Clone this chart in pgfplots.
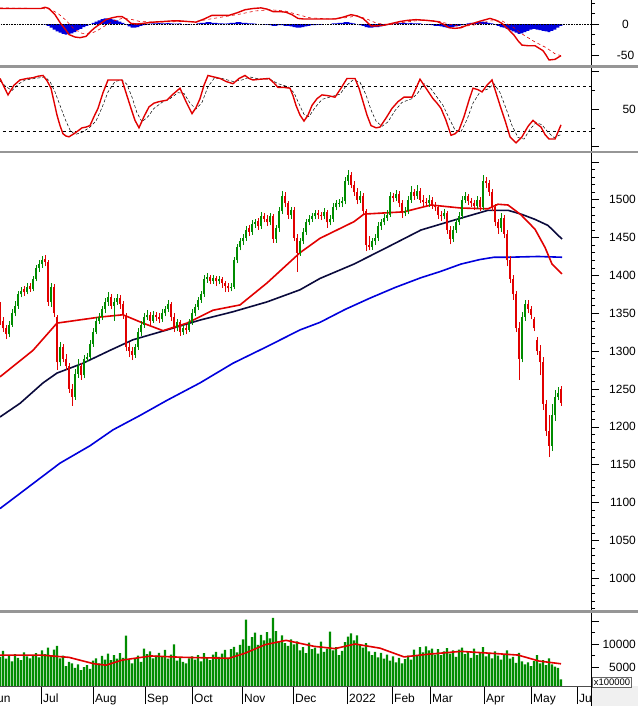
\documentclass[border=0pt]{standalone}
\usepackage{fontspec}
\setmainfont{Liberation Sans}
\usepackage{pgfplots}
\usepackage{pgfplotstable}
\pgfplotsset{compat=1.18}
\definecolor{cred}{RGB}{225,0,0}
\definecolor{cgreen}{RGB}{0,140,0}
\definecolor{cnavy}{RGB}{10,10,60}
\definecolor{cblue}{RGB}{0,0,220}
\definecolor{sepgray}{RGB}{150,150,150}

% candles: x o h l c  (x in pixels of the plot, 3 px per session)
\pgfplotstableread{
x o h l c
9 1322 1340 1318 1335
12 1335 1355 1332 1350
15 1350 1366 1346 1360
18 1360 1379 1356 1375
21 1375 1385 1371 1380
27 1378 1390 1375 1385
33 1382 1399 1379 1395
36 1395 1414 1392 1410
39 1410 1420 1405 1415
42 1415 1425 1410 1420
51 1365 1390 1358 1385
60 1285 1312 1280 1305
75 1240 1276 1236 1270
78 1270 1290 1265 1280
84 1268 1295 1264 1290
87 1290 1298 1285 1292
90 1292 1315 1290 1310
93 1310 1330 1306 1325
96 1325 1345 1322 1340
99 1340 1350 1336 1345
102 1345 1360 1341 1355
105 1355 1370 1350 1365
108 1365 1378 1360 1372
114 1360 1370 1340 1365
117 1365 1376 1361 1370
135 1295 1310 1291 1305
138 1305 1330 1302 1325
141 1325 1340 1320 1335
144 1335 1350 1331 1345
147 1345 1354 1341 1348
153 1340 1353 1337 1348
162 1342 1355 1339 1350
165 1350 1360 1346 1356
168 1356 1368 1352 1362
177 1330 1343 1326 1338
183 1325 1335 1321 1330
189 1328 1343 1325 1338
192 1338 1355 1335 1350
195 1350 1362 1346 1358
198 1358 1372 1354 1368
201 1368 1380 1364 1375
204 1375 1400 1372 1395
207 1395 1403 1390 1398
213 1393 1400 1389 1396
219 1392 1399 1388 1395
231 1383 1390 1379 1385
234 1385 1424 1382 1420
237 1420 1442 1416 1438
240 1438 1450 1433 1445
243 1445 1455 1440 1450
246 1450 1465 1446 1460
252 1458 1473 1454 1468
255 1468 1475 1463 1470
261 1465 1484 1461 1478
270 1470 1483 1466 1478
276 1448 1467 1443 1462
279 1462 1490 1458 1485
282 1485 1512 1481 1505
291 1480 1490 1475 1486
300 1430 1450 1426 1445
303 1445 1463 1441 1458
306 1458 1475 1454 1470
309 1470 1480 1466 1475
312 1475 1483 1471 1478
315 1478 1487 1474 1482
324 1478 1489 1474 1484
330 1470 1480 1466 1475
333 1475 1495 1471 1490
336 1490 1500 1486 1495
339 1495 1501 1490 1496
342 1496 1503 1490 1498
345 1498 1530 1494 1525
348 1525 1539 1520 1532
360 1500 1512 1496 1505
372 1438 1450 1434 1445
375 1445 1455 1440 1450
378 1450 1470 1446 1465
381 1465 1475 1460 1470
384 1470 1481 1466 1476
387 1476 1486 1472 1480
390 1480 1510 1477 1505
396 1502 1513 1498 1508
405 1482 1490 1478 1485
408 1485 1505 1481 1500
411 1500 1518 1496 1510
417 1505 1520 1501 1512
429 1495 1506 1491 1500
444 1478 1488 1474 1482
453 1448 1465 1444 1460
456 1460 1475 1456 1470
459 1470 1484 1466 1478
462 1478 1505 1474 1500
465 1500 1510 1496 1505
477 1492 1505 1488 1500
483 1490 1532 1486 1525
501 1462 1483 1458 1476
522 1290 1352 1285 1345
525 1345 1368 1340 1362
552 1175 1230 1168 1215
555 1215 1248 1208 1240
558 1240 1252 1235 1245
}\up

\pgfplotstableread{
x o h l c
0 1352 1365 1335 1340
3 1340 1345 1325 1330
6 1330 1334 1316 1322
24 1382 1386 1373 1378
30 1386 1390 1378 1382
45 1422 1427 1412 1418
48 1418 1420 1360 1365
54 1385 1388 1345 1350
57 1345 1348 1275 1285
63 1305 1310 1285 1290
66 1290 1296 1275 1280
69 1280 1284 1245 1250
72 1250 1256 1228 1240
81 1280 1284 1262 1268
111 1372 1375 1355 1360
120 1370 1374 1356 1362
123 1362 1366 1343 1348
126 1348 1350 1300 1305
129 1305 1312 1292 1300
132 1300 1306 1288 1295
150 1348 1352 1335 1340
156 1348 1352 1340 1345
159 1345 1350 1337 1342
171 1362 1365 1340 1345
174 1345 1350 1325 1330
180 1338 1341 1320 1325
186 1330 1334 1322 1328
210 1398 1401 1388 1393
216 1396 1399 1386 1392
222 1395 1398 1384 1390
225 1390 1393 1378 1386
228 1386 1390 1378 1383
249 1462 1466 1452 1458
258 1472 1476 1460 1465
264 1478 1482 1470 1475
267 1475 1480 1465 1470
273 1478 1481 1443 1448
285 1505 1510 1490 1495
288 1495 1498 1475 1480
294 1486 1490 1445 1450
297 1450 1455 1405 1430
318 1482 1486 1475 1480
321 1480 1484 1473 1478
327 1484 1487 1463 1470
351 1532 1536 1515 1520
354 1520 1525 1505 1510
357 1510 1515 1494 1500
363 1505 1509 1480 1485
366 1485 1488 1432 1440
369 1440 1452 1433 1438
393 1505 1509 1497 1502
399 1508 1511 1490 1495
402 1495 1499 1476 1482
414 1510 1514 1500 1505
420 1512 1516 1495 1500
423 1500 1506 1492 1497
426 1497 1502 1490 1495
432 1500 1504 1488 1493
435 1493 1497 1485 1490
438 1490 1493 1475 1480
441 1480 1485 1472 1478
447 1482 1485 1455 1460
450 1460 1465 1441 1448
468 1505 1508 1493 1498
471 1498 1502 1490 1495
474 1495 1499 1487 1492
480 1500 1503 1485 1490
486 1525 1530 1515 1522
489 1522 1526 1505 1510
492 1510 1514 1485 1490
495 1490 1494 1465 1470
498 1470 1475 1455 1462
504 1476 1480 1449 1455
507 1455 1460 1412 1420
510 1420 1425 1390 1395
513 1395 1400 1368 1375
516 1375 1380 1325 1330
519 1330 1338 1262 1290
528 1362 1368 1350 1356
531 1356 1360 1342 1348
534 1342 1345 1326 1330
537 1315 1318 1295 1300
540 1300 1308 1268 1285
543 1285 1292 1222 1230
546 1230 1236 1188 1195
549 1195 1215 1160 1175
561 1250 1254 1228 1232
}\down

% volume (x100000)
\pgfplotstableread{
x v
0 7200
3 8500
6 6800
9 7500
12 6200
15 7800
18 7000
21 6500
24 8200
27 7300
30 6900
33 7600
36 8000
39 7100
42 8600
45 7800
48 9200
51 7400
54 8800
57 9600
60 6900
63 7500
66 5200
69 6100
72 5800
75 4800
78 5600
81 4300
84 5000
87 5400
90 4600
93 6400
96 6900
99 5800
102 7400
105 6600
108 7900
111 6500
114 7600
117 6800
120 8000
123 7000
126 11800
129 6500
132 5800
135 6800
138 7500
141 6100
144 9000
147 7800
150 8400
153 6900
156 7500
159 8100
162 7200
165 8700
168 6800
171 7700
174 9900
177 6400
180 7000
183 6100
186 5800
189 6900
192 7300
195 6600
198 7600
201 6200
204 8000
207 7100
210 6500
213 7700
216 8300
219 7200
222 7900
225 8700
228 7000
231 8900
234 9400
237 8200
240 9800
243 11000
246 15300
249 9600
252 11500
255 12500
258 9800
261 12000
264 10800
267 12600
270 11200
273 15700
276 12800
279 10500
282 11900
285 10200
288 9600
291 11000
294 9900
297 10600
300 8600
303 9300
306 8000
309 10300
312 8900
315 9200
318 7900
321 10500
324 8300
327 9000
330 12700
333 8600
336 9300
339 7600
342 8500
345 10400
348 11600
351 12300
354 10800
357 11900
360 10000
363 9200
366 10200
369 8400
372 7600
375 8300
378 7100
381 8100
384 6800
387 7700
390 6400
393 7300
396 6000
399 7000
402 5800
405 6700
408 7500
411 6600
414 8800
417 7400
420 9300
423 8200
426 9500
429 8600
432 9000
435 7700
438 8900
441 7600
444 8400
447 9100
450 7900
453 8600
456 7200
459 8800
462 9200
465 7800
468 8400
471 7000
474 9000
477 7600
480 8200
483 9300
486 7300
489 8100
492 6900
495 8400
498 7500
501 6600
504 7800
507 8600
510 6800
513 7200
516 5900
519 8100
522 6200
525 5600
528 6000
531 5200
534 6300
537 7600
540 5800
543 6500
546 5400
549 6900
552 5600
555 5100
558 4800
561 2300
}\vol

\pgfplotsset{
  panel/.style={
    scale only axis, width=606bp, xmin=-15, xmax=591,
    axis y line*=right, axis x line=none,
    tick align=outside, major tick length=8bp, minor tick length=4bp,
    every tick/.style={black, line width=0.6bp},
    axis line style={black, line width=0.8bp},
    tick label style={font=\fontsize{12}{14}\selectfont},
    yticklabel style={anchor=east, inner sep=0pt, xshift=37bp},
    scaled y ticks=false,
  },
  candle/.style={draw=none, mark=none, error bars/.cd, y dir=plus, y explicit,
    error mark=none, error bar style={draw=#1, solid, line width=0.7bp}},
  body/.style={draw=none, mark=none, error bars/.cd, y dir=plus, y explicit,
    error mark=none, error bar style={draw=#1, solid, line width=1.8bp}},
}

\begin{document}
\begin{tikzpicture}[x=1bp,y=1bp]
\useasboundingbox (0,0) rectangle (638,-706);

% MACD panel
\begin{axis}[panel, at={(-15bp,0bp)}, anchor=north west, height=66bp,
  ymin=-67.7, ymax=38.7, ytick={-100,-50,0,50}, yticklabels={,-50,0,},
  minor y tick num=2, yticklabel style={anchor=center, xshift=-10.5bp}]
\addplot[ybar, bar width=2.6bp, fill=cblue, draw=none] coordinates {
(45,-1) (48,-3) (51,-6) (54,-9) (57,-12) (60,-14) (63,-16) (66,-17) (69,-16) (72,-15)
(75,-13) (78,-10) (81,-8) (84,-5) (87,-3) (93,2) (96,4) (99,6) (102,8) (105,9)
(108,9) (111,8) (114,7) (117,6) (120,4) (123,2) (126,-1) (129,-4) (132,-6) (135,-6)
(138,-5) (141,-3) (144,-2) (147,-1) (150,0.5) (153,1) (156,1) (159,1.5) (162,1) (165,1)
(168,1.5) (171,1) (174,0.5) (177,0.5) (180,1) (186,-1) (189,-1) (198,1) (201,2) (204,2)
(207,3) (210,3) (213,2) (216,2) (219,1) (222,1) (225,0.5) (228,1) (231,2) (234,2)
(237,3) (240,3) (243,2) (246,2) (249,1) (252,1) (255,0.5) (264,-1) (267,-1) (270,-2)
(273,-3) (276,-3) (279,-2) (282,-2) (285,-3) (288,-3) (291,-4) (294,-5) (297,-6) (300,-6)
(303,-5) (306,-4) (309,-3) (312,-2) (315,-2) (318,-1) (321,-1) (333,1) (336,1) (339,2)
(342,2) (345,3) (348,3) (351,2) (354,1) (360,-2) (363,-3) (366,-5) (369,-6) (372,-6)
(375,-5) (378,-5) (381,-4) (384,-3) (387,-2) (390,-1) (393,1) (396,1) (399,2) (402,2)
(405,2) (408,1) (411,2) (414,1) (417,1) (420,1) (426,-1) (429,-1) (432,-2) (435,-3)
(438,-3) (441,-4) (444,-5) (447,-6) (450,-6) (453,-5) (456,-4) (459,-3) (462,-2) (465,-1)
(468,1) (471,2) (474,2) (477,3) (480,3) (483,4) (486,3) (489,2) (492,1) (495,-1)
(498,-3) (501,-5) (504,-6) (507,-8) (510,-10) (513,-12) (516,-14) (519,-16) (522,-15) (525,-13)
(528,-11) (531,-9) (534,-8) (537,-9) (540,-10) (543,-11) (546,-12) (549,-13) (552,-11) (555,-9)
(558,-6) (561,-3)};
\addplot[black, densely dotted, line width=0.6bp] coordinates {(-15,0) (591,0)};
\addplot[cred, dashed, line width=0.6bp] coordinates {
(0,26) (41,25) (50,24) (58,17) (66,6) (74,-8) (82,-15) (90,-16) (98,-10) (106,-2)
(114,5) (122,9) (130,8) (140,4) (160,3) (180,4) (196,4) (210,8) (225,12) (240,16)
(255,21) (270,23) (285,21) (298,15) (310,10) (330,8) (345,10) (357,13) (367,8) (377,1)
(390,-1) (405,3) (420,6) (437,5) (449,0) (461,-4) (473,-2) (490,5) (502,5) (514,-6)
(522,-16) (535,-29) (546,-38) (555,-48) (561,-51)};
\addplot[cred, line width=1.4bp] coordinates {
(0,25) (20,25) (41,25) (45,27) (49,25) (55,15) (61,0) (66,-10) (69,-17) (75,-21)
(80,-22) (86,-20) (90,-13) (94,-7) (100,0) (106,7) (112,10) (118,12) (122,12) (126,8)
(131,1) (137,0) (143,1) (153,3) (163,4) (172,5) (180,5) (188,4) (196,3) (204,8)
(212,14) (220,14) (229,14) (237,18) (245,23) (253,25) (261,26) (267,24) (273,20) (280,20)
(286,19) (292,15) (298,9) (304,8) (310,8) (322,8) (335,8) (343,11) (351,15) (357,13)
(363,9) (367,3) (371,-3) (377,-3) (384,-2) (392,1) (400,4) (408,6) (416,7) (426,6)
(437,4) (443,0) (449,-6) (455,-7) (461,-6) (467,-2) (473,1) (481,5) (490,9) (496,6)
(502,1) (508,-8) (514,-18) (518,-27) (522,-34) (528,-35) (535,-35) (539,-39) (543,-43) (546,-50)
(549,-58) (555,-57) (561,-51)};
\end{axis}

% Stochastic panel
\begin{axis}[panel, at={(-15bp,-68bp)}, anchor=north west, height=83bp,
  ymin=-6, ymax=105, ytick={0,50,100}, yticklabels={,50,}, minor y tick num=1]
\addplot[black, dashed, line width=0.6bp] coordinates {(-15,80) (591,80)};
\addplot[black, dashed, line width=0.6bp] coordinates {(-15,20) (591,20)};
\addplot[black, densely dashed, line width=0.5bp] coordinates {
(0,88) (6,80) (12,75) (18,83) (25,89) (35,91) (45,93) (50,87) (55,73) (60,55)
(65,37) (70,22) (75,16) (82,19) (90,26) (96,34) (102,52) (108,73) (115,87) (122,89)
(127,83) (132,66) (137,45) (142,33) (148,40) (154,51) (162,59) (170,64) (178,72) (184,71)
(190,58) (196,50) (202,59) (208,80) (214,91) (222,91) (233,87) (242,89) (250,93) (260,90)
(270,90) (278,84) (288,80) (294,72) (299,57) (304,43) (309,40) (315,52) (322,63) (332,67)
(340,70) (346,81) (353,89) (360,86) (366,69) (371,49) (376,34) (382,27) (388,33) (395,48)
(402,59) (412,64) (418,72) (424,84) (430,79) (437,66) (443,55) (449,38) (455,22) (461,20)
(467,36) (473,58) (480,73) (488,77) (494,84) (500,72) (506,51) (512,28) (518,12) (524,10)
(530,23) (536,32) (542,29) (548,19) (554,12) (561,16)};
\addplot[cred, line width=1.4bp] coordinates {
(0,91) (4,80) (8,69) (14,82) (20,89) (27,91) (33,92) (38,94) (43,95) (47,88)
(51,78) (54,60) (57,42) (60,28) (63,17) (66,14) (69,13) (75,18) (82,25) (86,26)
(90,28) (94,40) (98,51) (103,72) (108,89) (115,89) (122,89) (126,72) (131,51) (135,35)
(139,25) (144,40) (149,53) (154,58) (159,60) (167,62) (173,70) (180,78) (186,60) (192,44)
(196,52) (200,64) (204,82) (208,95) (214,93) (220,91) (226,87) (233,84) (239,91) (245,95)
(249,91) (253,89) (260,90) (269,91) (274,85) (278,79) (284,79) (290,78) (293,68) (296,55)
(300,42) (304,34) (308,42) (312,55) (317,64) (322,69) (328,68) (335,66) (341,78) (347,91)
(355,91) (359,78) (363,60) (367,42) (371,28) (376,25) (380,26) (386,38) (392,51) (398,60)
(404,66) (412,66) (416,78) (420,90) (426,78) (433,64) (437,58) (441,51) (446,35) (451,15)
(455,17) (459,22) (464,40) (469,62) (473,78) (478,76) (482,73) (487,82) (492,89) (496,72)
(500,55) (505,35) (510,13) (516,5) (522,13) (528,27) (533,35) (537,30) (541,26) (545,16)
(549,10) (555,10) (561,29)};
\end{axis}

% Price panel
\begin{axis}[panel, at={(-15bp,-153bp)}, anchor=north west, height=457bp,
  ymin=958, ymax=1561.7,
  ytick={950,1000,1050,1100,1150,1200,1250,1300,1350,1400,1450,1500,1550},
  yticklabels={,1000,1050,1100,1150,1200,1250,1300,1350,1400,1450,1500,},
  minor y tick num=4]
\addplot[cblue, line width=1.6bp] coordinates {
(0,1092) (30,1122) (60,1152) (90,1175) (113,1196) (140,1215) (167,1235) (200,1258)
(233,1284) (267,1306) (300,1328) (320,1338) (345,1355) (370,1370) (395,1384) (421,1397)
(440,1405) (461,1415) (480,1421) (494,1424) (508,1424) (538,1425) (562,1424)};
\addplot[cnavy, line width=1.6bp] coordinates {
(0,1213) (20,1231) (43,1258) (57,1271) (83,1284) (110,1301) (133,1315) (167,1328)
(200,1341) (233,1352) (267,1365) (300,1381) (320,1396) (354,1415) (387,1437) (421,1460)
(454,1473) (488,1486) (508,1486) (521,1481) (535,1474) (548,1466) (562,1448)};
\addplot[cred, line width=1.6bp] coordinates {
(0,1266) (33,1301) (57,1337) (100,1345) (123,1348) (143,1337) (163,1327) (187,1337)
(213,1354) (240,1361) (267,1390) (300,1430) (320,1449) (354,1471) (364,1481) (404,1484)
(431,1493) (461,1489) (488,1488) (498,1494) (508,1493) (521,1480) (535,1461) (545,1437)
(552,1415) (562,1402)};
% wicks
\addplot[candle=cgreen] table[x=x, y=l, y error expr=\thisrow{h}-\thisrow{l}] {\up};
\addplot[candle=cred] table[x=x, y=l, y error expr=\thisrow{h}-\thisrow{l}] {\down};
% bodies
\addplot[body=cgreen] table[x=x, y=o, y error expr=\thisrow{c}-\thisrow{o}] {\up};
\addplot[body=cred] table[x=x, y=c, y error expr=\thisrow{o}-\thisrow{c}] {\down};
\end{axis}

% Volume panel
\begin{axis}[panel, at={(-15bp,-613bp)}, anchor=north west, height=73bp,
  ymin=870, ymax=16739, ytick={0,5000,10000,15000,20000},
  yticklabels={,5000,10000,,}, minor y tick num=1]
\addplot[ybar, bar width=2.1bp, fill=cgreen, draw=none] table[x=x, y=v] {\vol};
\addplot[cred, line width=1.6bp] coordinates {
(0,7600) (41,7600) (69,7100) (94,5700) (106,5400) (122,6500) (151,7400) (184,7100)
(229,6900) (245,8000) (265,9850) (286,10800) (314,9500) (335,9000) (355,10000) (380,9100)
(404,7200) (429,7800) (461,8400) (490,8000) (518,7600) (539,6300) (561,5700)};
\end{axis}

% date axis
\begin{axis}[scale only axis, width=606bp, height=10bp, at={(-15bp,-676bp)}, anchor=north west,
  xmin=-15, xmax=591, ymin=0, ymax=1, axis y line=none, axis x line*=bottom,
  axis line style={black!70, line width=0.6bp},
  tick align=outside, major tick length=18bp, minor tick length=4bp,
  every tick/.style={black, line width=0.6bp},
  xtick={-11,41,93,145,192,242,293,347,392,430,484,531,577},
  xticklabels={Jun,Jul,Aug,Sep,Oct,Nov,Dec,2022,Feb,Mar,Apr,May,Jun},
  minor x tick num=3,
  xticklabel style={anchor=north west, inner sep=0pt, xshift=2bp, yshift=10bp,
    font=\fontsize{12}{14}\selectfont}]
\addplot[draw=none] coordinates {(0,0)};
\end{axis}
\fill[black!6] (591,-686) rectangle (638,-706);

% panel separators
\fill[sepgray] (0,-65.5) rectangle (638,-68);
\fill[sepgray] (0,-150.5) rectangle (638,-153);
\fill[sepgray] (0,-610) rectangle (638,-612.5);
\draw[black, line width=0.8bp] (591,-686) -- (591,-706);
\node[draw=black!60, fill=white, inner sep=1.5bp, font=\fontsize{9.5}{11}\selectfont]
  at (612,-682.5) {x100000};
\end{tikzpicture}
\end{document}
